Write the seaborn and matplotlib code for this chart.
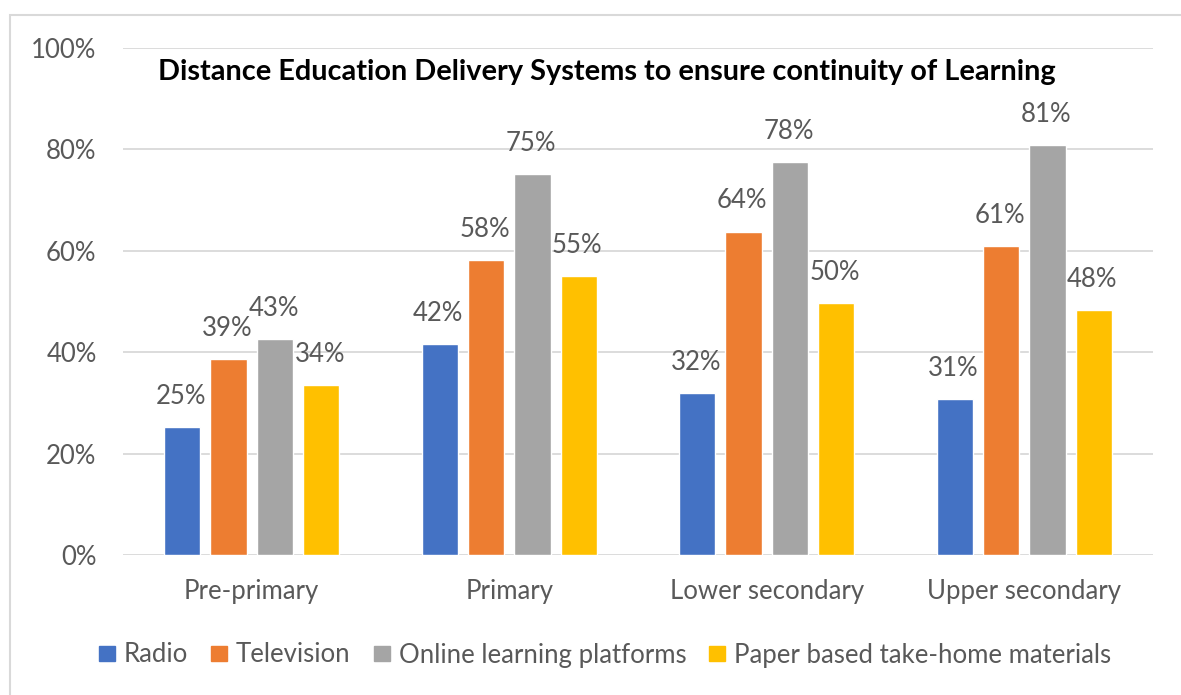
import matplotlib
matplotlib.use("Agg")
import matplotlib.pyplot as plt
import matplotlib.patches as mpatches
from matplotlib.ticker import FuncFormatter
import seaborn as sns
import pandas as pd

categories = ["Pre-primary", "Primary", "Lower secondary", "Upper secondary"]
series = ["Radio", "Television", "Online learning platforms", "Paper based take-home materials"]
radio = [25.2, 41.6, 31.9, 30.8]
television = [38.6, 58.2, 63.8, 61.0]
online = [42.6, 75.1, 77.6, 80.8]
paper = [33.5, 55.0, 49.7, 48.3]
yticks = [0, 20, 40, 60, 80, 100]
title = "Distance Education Delivery Systems to ensure continuity of Learning"

colors = ["#4472C4", "#ED7D31", "#A5A5A5", "#FFC000"]

rows = []
for s, vals in zip(series, [radio, television, online, paper]):
    for c, v in zip(categories, vals):
        rows.append({"Level": c, "System": s, "Value": v})
df = pd.DataFrame(rows)

sns.set_theme(style="white")
plt.rcParams["font.family"] = ["Lato", "DejaVu Sans"]

FS = 18.5

fig = plt.figure(figsize=(11.81, 6.95), dpi=100)
ax = fig.add_axes([123 / 1181, 1 - 555 / 695, (1153 - 123) / 1181, (555 - 48) / 695])

sns.barplot(data=df, x="Level", y="Value", hue="System", order=categories,
            hue_order=series, palette=colors, width=0.72, gap=0.22,
            saturation=1, ax=ax, legend=False)

ax.set_ylim(0, 100)
ax.set_xlim(-0.5, len(categories) - 0.5)
ax.set_yticks(yticks)
ax.yaxis.set_major_formatter(FuncFormatter(lambda v, p: f"{int(v)}%"))
ax.grid(axis="y", color="#D9D9D9", linewidth=1.3)
ax.set_axisbelow(True)
for sp in ax.spines.values():
    sp.set_visible(False)
ax.tick_params(axis="both", length=0, labelsize=FS, colors="#595959")
ax.tick_params(axis="y", pad=19)
ax.tick_params(axis="x", pad=17)
ax.set_xlabel("")
ax.set_ylabel("")

for cont in ax.containers:
    for bar in cont:
        h = bar.get_height()
        ax.annotate(f"{round(h)}%", (bar.get_x() + bar.get_width() / 2, h),
                    xytext=(-1, 22), textcoords="offset points",
                    ha="center", va="center", fontsize=FS, color="#595959")

fig.text(607 / 1181, 1 - 72 / 695, title,
         ha="center", va="center", fontsize=20.8, fontweight="bold", color="black")

handles = [mpatches.Patch(color=c, label=s) for c, s in zip(colors, series)]
fig.legend(handles=handles, loc="center", bbox_to_anchor=(605 / 1181, 1 - 655 / 695),
           ncol=4, frameon=False, fontsize=FS, handlelength=0.62, handleheight=0.55,
           handletextpad=0.35, columnspacing=0.9, labelcolor="#595959")

border = mpatches.Rectangle((10 / 1181, -0.05), 1.1, 1 - 15 / 695 + 0.05,
                            transform=fig.transFigure, fill=False,
                            edgecolor="#D9D9D9", linewidth=1.5, clip_on=False)
fig.patches.append(border)

fig.savefig("out.png", dpi=100)
